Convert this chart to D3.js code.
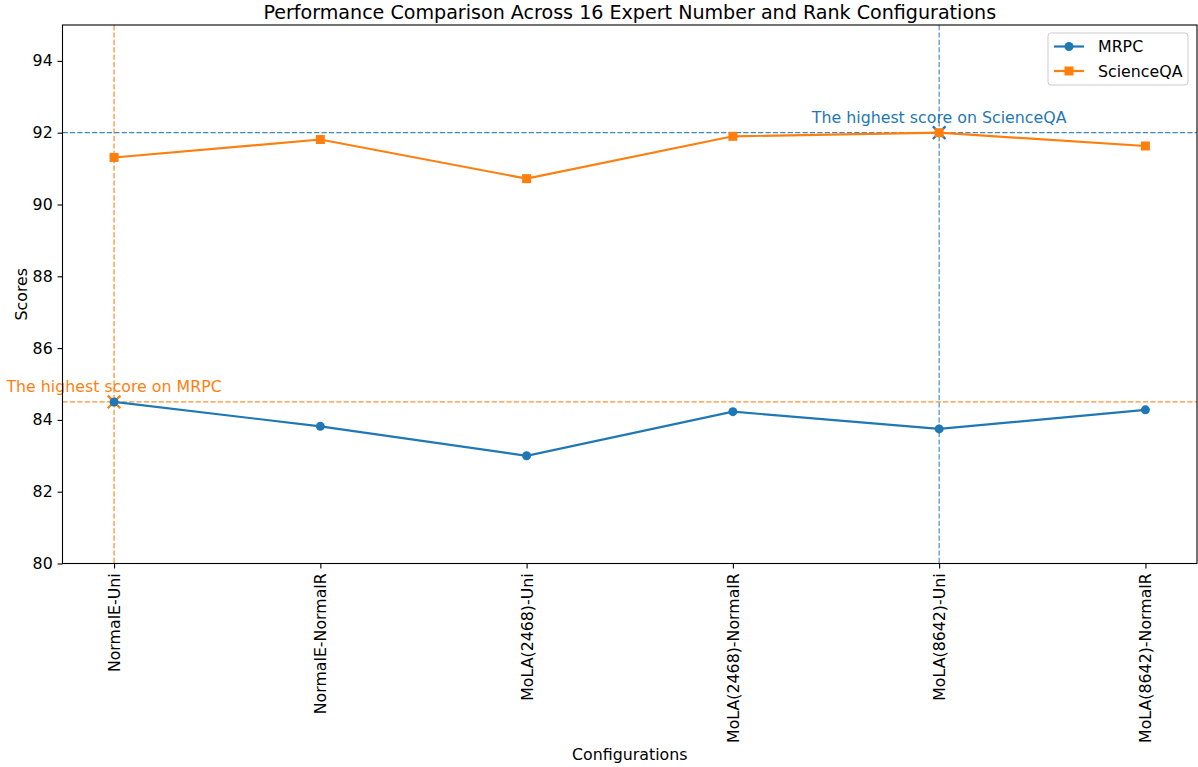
<!DOCTYPE html>
<html>
<head>
<meta charset="utf-8">
<script src="https://cdn.jsdelivr.net/npm/d3@7"></script>
<style>
  body { margin: 0; background: #fff; }
  svg { font-family: "DejaVu Sans", sans-serif; }
</style>
</head>
<body>
<svg id="chart" width="1198" height="767"></svg>
<script>
// Configurations on the x axis
const configurations = [
  "NormalE-Uni", "NormalE-NormalR", "MoLA(2468)-Uni",
  "MoLA(2468)-NormalR", "MoLA(8642)-Uni", "MoLA(8642)-NormalR"
];
// Scores per configuration
const mrpcScores = [84.50, 83.82, 83.00, 84.23, 83.75, 84.28];
const scienceqaScores = [91.31, 91.81, 90.72, 91.90, 92.00, 91.63];
const yTicks = [80, 82, 84, 86, 88, 90, 92, 94];

const BLUE = "#1f77b4", ORANGE = "#ff7f0e";
const FS = 15.8;

const svg = d3.select("#chart");
const plotLeft = 62.5, plotRight = 1197, plotTop = 25, plotBottom = 563.5;

const x = d3.scaleLinear().domain([-0.25, configurations.length - 0.75]).range([plotLeft, plotRight]);
const y = d3.scaleLinear().domain([80, 95]).range([plotBottom, plotTop]);

const series = [
  { name: "MRPC", values: mrpcScores, color: BLUE, marker: "circle" },
  { name: "ScienceQA", values: scienceqaScores, color: ORANGE, marker: "square" }
];

const mrpcBest = d3.maxIndex(mrpcScores);
const sqaBest = d3.maxIndex(scienceqaScores);

const plot = svg.append("g");
plot.append("clipPath").attr("id", "clip")
  .append("rect").attr("x", plotLeft).attr("y", plotTop)
  .attr("width", plotRight - plotLeft).attr("height", plotBottom - plotTop);
const g = plot.append("g").attr("clip-path", "url(#clip)");

const dash = "5.2,2.2";
function guide(x1, x2, y1, y2, color, op) {
  g.append("line").attr("x1", x1).attr("x2", x2).attr("y1", y1).attr("y2", y2)
    .attr("stroke", color).attr("stroke-width", 1.3).attr("stroke-dasharray", dash).attr("opacity", op);
}
// MRPC best: orange guides
guide(x(mrpcBest), x(mrpcBest), plotTop, plotBottom, ORANGE, 0.85);
guide(plotLeft, plotRight, y(mrpcScores[mrpcBest]), y(mrpcScores[mrpcBest]), ORANGE, 0.85);
// ScienceQA best: blue guides
guide(x(sqaBest), x(sqaBest), plotTop, plotBottom, BLUE, 0.75);
guide(plotLeft, plotRight, y(scienceqaScores[sqaBest]), y(scienceqaScores[sqaBest]), BLUE, 0.85);

// X markers on the best points
function xMark(cx, cy, color) {
  const s = 6.3;
  g.append("path")
    .attr("d", `M${cx - s},${cy - s}L${cx + s},${cy + s}M${cx - s},${cy + s}L${cx + s},${cy - s}`)
    .attr("stroke", color).attr("stroke-width", 2.3).attr("fill", "none");
}
xMark(x(mrpcBest), y(mrpcScores[mrpcBest]), ORANGE);
xMark(x(sqaBest), y(scienceqaScores[sqaBest]), BLUE);

// Series lines and markers
const line = d3.line().x((d, i) => x(i)).y(d => y(d));
series.forEach(s => {
  g.append("path").datum(s.values).attr("d", line)
    .attr("fill", "none").attr("stroke", s.color).attr("stroke-width", 2.2);
  if (s.marker === "circle") {
    g.selectAll(null).data(s.values).enter().append("circle")
      .attr("cx", (d, i) => x(i)).attr("cy", d => y(d)).attr("r", 4.5).attr("fill", s.color);
  } else {
    g.selectAll(null).data(s.values).enter().append("rect")
      .attr("x", (d, i) => x(i) - 4.5).attr("y", d => y(d) - 4.5)
      .attr("width", 9).attr("height", 9).attr("fill", s.color);
  }
});

// Annotations
svg.append("text").attr("x", x(mrpcBest)).attr("y", y(mrpcScores[mrpcBest]) - 10)
  .attr("text-anchor", "middle").attr("fill", ORANGE).attr("font-size", FS)
  .text("The highest score on MRPC");
svg.append("text").attr("x", x(sqaBest)).attr("y", y(scienceqaScores[sqaBest]) - 10)
  .attr("text-anchor", "middle").attr("fill", BLUE).attr("font-size", FS)
  .text("The highest score on ScienceQA");

// Axes
const yAxis = svg.append("g").attr("transform", `translate(${plotLeft},0)`)
  .call(d3.axisLeft(y).tickValues(yTicks).tickSize(4.9).tickPadding(4.9).tickFormat(d3.format("d")));
const xAxis = svg.append("g").attr("transform", `translate(0,${plotBottom})`)
  .call(d3.axisBottom(x).tickValues(d3.range(configurations.length)).tickSize(4.9).tickPadding(4.9)
    .tickFormat(i => configurations[i]));
[xAxis, yAxis].forEach(a => {
  a.select(".domain").remove();
  a.selectAll(".tick line").attr("stroke", "#000").attr("stroke-width", 1.1);
  a.selectAll(".tick text").attr("font-size", FS).attr("fill", "#000")
    .attr("font-family", "DejaVu Sans, sans-serif");
});
xAxis.selectAll(".tick text")
  .attr("transform", "rotate(-90)")
  .attr("x", -9.8).attr("y", 0).attr("dy", "0.35em")
  .attr("text-anchor", "end");

// Frame
svg.append("rect").attr("x", plotLeft).attr("y", plotTop)
  .attr("width", plotRight - plotLeft).attr("height", plotBottom - plotTop)
  .attr("fill", "none").attr("stroke", "#000").attr("stroke-width", 1.1);

// Title and axis labels
svg.append("text").attr("x", (plotLeft + plotRight) / 2).attr("y", 19).attr("text-anchor", "middle")
  .attr("font-size", 19.1).text("Performance Comparison Across 16 Expert Number and Rank Configurations");
svg.append("text").attr("x", (plotLeft + plotRight) / 2).attr("y", 760).attr("text-anchor", "middle")
  .attr("font-size", FS).text("Configurations");
svg.append("text").attr("transform", `translate(27,${(plotTop + plotBottom) / 2}) rotate(-90)`)
  .attr("text-anchor", "middle").attr("font-size", FS).text("Scores");

// Legend
const lg = svg.append("g").attr("transform", "translate(1048,33)");
lg.append("rect").attr("width", 140).attr("height", 52).attr("rx", 3)
  .attr("fill", "#fff").attr("fill-opacity", 0.8).attr("stroke", "#ccc").attr("stroke-width", 1);
series.forEach((s, i) => {
  const cy = 13.5 + i * 24.5;
  lg.append("line").attr("x1", 6).attr("x2", 36).attr("y1", cy).attr("y2", cy)
    .attr("stroke", s.color).attr("stroke-width", 2.2);
  if (s.marker === "circle") {
    lg.append("circle").attr("cx", 21).attr("cy", cy).attr("r", 4.5).attr("fill", s.color);
  } else {
    lg.append("rect").attr("x", 16.5).attr("y", cy - 4.5).attr("width", 9).attr("height", 9).attr("fill", s.color);
  }
  lg.append("text").attr("x", 50).attr("y", cy).attr("dy", "0.36em").attr("font-size", FS).text(s.name);
});
</script>
</body>
</html>
